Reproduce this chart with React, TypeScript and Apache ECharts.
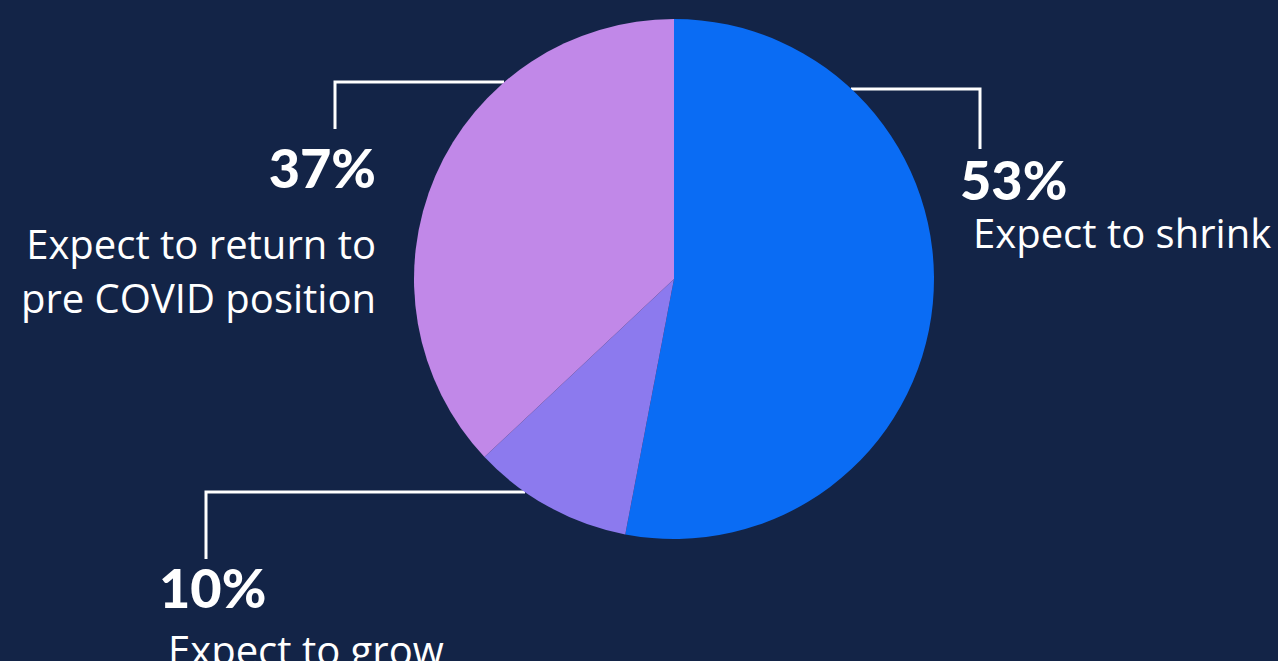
import React, { useEffect, useRef } from "react";
import * as echarts from "echarts";

const categories = ["Expect to shrink", "Expect to grow", "Expect to return to\npre COVID position"];
const values = [53, 10, 37];
const colors = ["#0a6cf4", "#8c7aee", "#c188e8"];

export default function App() {
  const ref = useRef<HTMLDivElement>(null);
  useEffect(() => {
    document.body.style.margin = "0";
    document.body.style.background = "#132447";
    const chart = echarts.init(ref.current!, null, { renderer: "svg" });
    const layouts: any[] = [
      { x: 960, y: 153, align: "left", labelLinePoints: [[851, 89], [980, 89], [980, 149]] },
      { x: 159, y: 553, align: "left", labelLinePoints: [[525, 492], [206, 492], [206, 559]] },
      { x: 376, y: 118, align: "right", labelLinePoints: [[504, 82], [335, 82], [335, 129]] },
    ];
    const vLH = [52, 69, 98];
    const nLH = [54, 54, 54];
    const rich: any = {};
    values.forEach((_, i) => {
      const al = layouts[i].align;
      rich["v" + i] = {
        fontFamily: "Lato",
        fontWeight: 900,
        fontSize: 54,
        color: "#ffffff",
        lineHeight: vLH[i],
        align: al,
      };
      rich["n" + i] = {
        fontFamily: "Open Sans",
        fontWeight: 400,
        fontSize: 40,
        color: "#ffffff",
        lineHeight: nLH[i],
        align: al,
        padding: al === "left" ? [0, 0, 0, i === 0 ? 13 : 9] : [0, 0, 0, 0],
      };
    });
    chart.setOption({
      animation: false,
      backgroundColor: "#132447",
      series: [
        {
          type: "pie",
          center: [674, 279],
          radius: 260,
          startAngle: 90,
          clockwise: true,
          avoidLabelOverlap: false,
          emphasis: { disabled: true },
          data: values.map((v, i) => ({
            value: v,
            name: categories[i],
            itemStyle: { color: colors[i] },
          })),
          label: {
            show: true,
            formatter: (p: any) => {
              const i = p.dataIndex;
              const lines = String(p.name).split("\n").map((l: string) => `{n${i}|${l}}`);
              return `{v${i}|${p.value}%}\n` + lines.join("\n");
            },
            rich,
          },
          labelLine: {
            show: true,
            lineStyle: { color: "#ffffff", width: 3 },
          },
          labelLayout: (params: any) => ({
            ...layouts[params.dataIndex],
            verticalAlign: "top",
          }),
        },
      ],
    });
    return () => chart.dispose();
  }, []);
  return <div ref={ref} style={{ width: 1278, height: 661 }} />;
}
